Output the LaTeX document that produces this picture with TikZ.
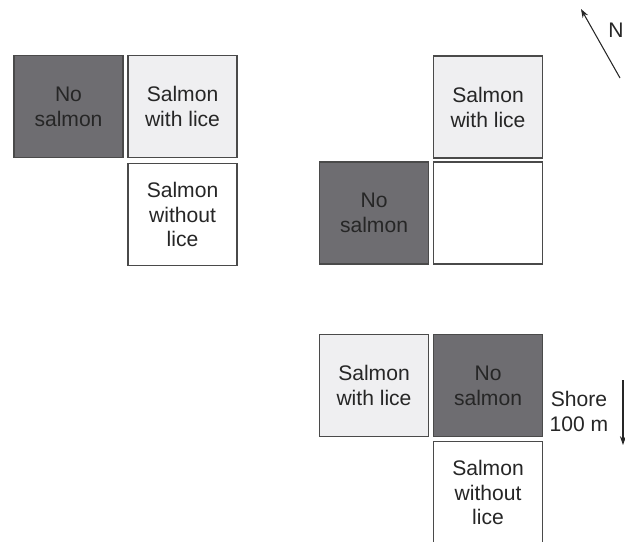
\documentclass[tikz,border=0pt]{standalone}
\usepackage{fontspec}
\setmainfont{Liberation Sans}
\usetikzlibrary{arrows.meta}
\definecolor{darkpen}{HTML}{6E6D71}
\definecolor{lightpen}{HTML}{EFEFF1}
\definecolor{edgegray}{HTML}{4A4A4A}
\definecolor{inkgray}{HTML}{262626}
\tikzset{
  pen/.style={draw=edgegray, line width=0.6pt, minimum width=2.18cm, minimum height=2.04cm,
    align=center, text=inkgray, font=\fontsize{12}{14.2}\selectfont, inner sep=0pt},
  nosal/.style={pen, fill=darkpen},
  withlice/.style={pen, fill=lightpen},
  nolice/.style={pen, fill=white},
  pointer/.style={-{Stealth[length=5pt,width=3.5pt]}, line width=0.6pt, draw=inkgray}
}

\begin{document}
\begin{tikzpicture}[x=0.02cm, y=-0.02cm]
    \useasboundingbox (0,0) rectangle (625,541);
    
    % first layout
    \node[nosal] (nosalA) at (68.5,106.5) {No\\salmon};
    \node[withlice] (liceA) at (182.5,106.5) {Salmon\\with lice};
    \node[nolice] (cleanA) at (182.5,214.5) {Salmon\\without\\lice};
    
    % second layout
    \node[withlice] (liceB) at (488,107) {Salmon\\with lice};
    \node[nosal] (nosalB) at (374,213) {No\\salmon};
    \node[nolice] (emptyB) at (488,213) {};
    
    % third layout
    \node[withlice] (liceC) at (374,385.5) {Salmon\\with lice};
    \node[nosal] (nosalC) at (488,385.5) {No\\salmon};
    \node[nolice] (cleanC) at (488,492.5) {Salmon\\without\\lice};
    
    % north and shore
    \coordinate (ntail) at (620,78);
    \coordinate (nhead) at (581,9);
    \draw[pointer] (ntail) -- (nhead);
    \node[text=inkgray, font=\fontsize{12}{14.2}\selectfont] (north) at (616,30) {N};
    
    \node[align=center, text=inkgray, font=\fontsize{12}{14.2}\selectfont] (shore) at (579,411) {Shore\\100 m};
    \coordinate (stop) at (623,380);
    \coordinate (sbot) at (623,445);
    \draw[pointer] (stop) -- (sbot);
    
\end{tikzpicture}
\end{document}
